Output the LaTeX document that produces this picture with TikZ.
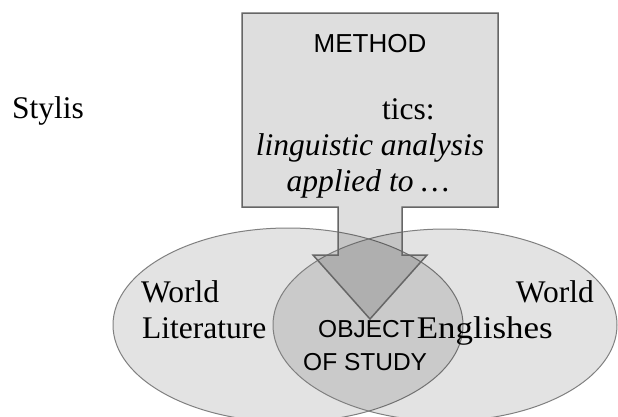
\documentclass[tikz,border=0pt]{standalone}
\usepackage{fontspec}
\setmainfont{Liberation Serif}
\setsansfont{Liberation Sans}
\begin{document}
\begin{tikzpicture}[x=1pt,y=-1pt,
  setshade/.style={fill=black,fill opacity=0.11,draw opacity=1},
  boxshade/.style={fill=black,fill opacity=0.13,draw opacity=1},
  setline/.style={draw=black!50,line width=1pt},
  boxline/.style={draw=black!60,line width=1.5pt,line join=miter},
  serif/.style={font=\fontsize{31.5}{36}\selectfont,inner sep=0pt,text=black},
  serifit/.style={font=\fontsize{31.5}{36}\selectfont\itshape,inner sep=0pt,text=black},
  sans/.style={font=\sffamily\fontsize{24.5}{30}\selectfont,inner sep=0pt,text=black},
  sansbig/.style={font=\sffamily\fontsize{26}{30}\selectfont,inner sep=0pt,text=black}]
\useasboundingbox (0,0) rectangle (618,416);
\fill[white] (0,0) rectangle (618,416);
\clip (0,0) rectangle (618,416);

% the two overlapping sets
\path[setshade,setline] (288,325) ellipse [x radius=175, y radius=97];
\path[setshade,setline] (445,325) ellipse [x radius=172, y radius=96];

% block arrow pointing into the intersection
\path[boxshade,boxline] (242,13) -- (498,13) -- (498,207) -- (402,207) -- (402,255)
  -- (427,255) -- (370,319) -- (313,255) -- (338,255) -- (338,207) -- (242,207) -- cycle;

% labels
\node[sansbig,anchor=base] (method) at (370,52) {METHOD};
\node[serif,anchor=base west] (stylis) at (12,118) {Stylis};
\node[serif,anchor=base west] (tics) at (382,119) {tics:};
\node[serifit,anchor=base] (ling) at (370,155) {linguistic analysis};
\node[serifit,anchor=base] (applied) at (368,191) {applied to …};

\node[serif,anchor=base west] (wl1) at (141,302) {World};
\node[serif,anchor=base west] (wl2) at (142,338) {Literature};
\node[serif,anchor=base east] (we1) at (594,302) {World};
\node[serif,anchor=base east] (we2) at (553,338) {\scalebox{1.11}[1]{Englishes}};
\node[sans,anchor=base west] (obj1) at (318,337) {OBJECT};
\node[sans,anchor=base west] (obj2) at (303,370) {OF STUDY};
\end{tikzpicture}
\end{document}
